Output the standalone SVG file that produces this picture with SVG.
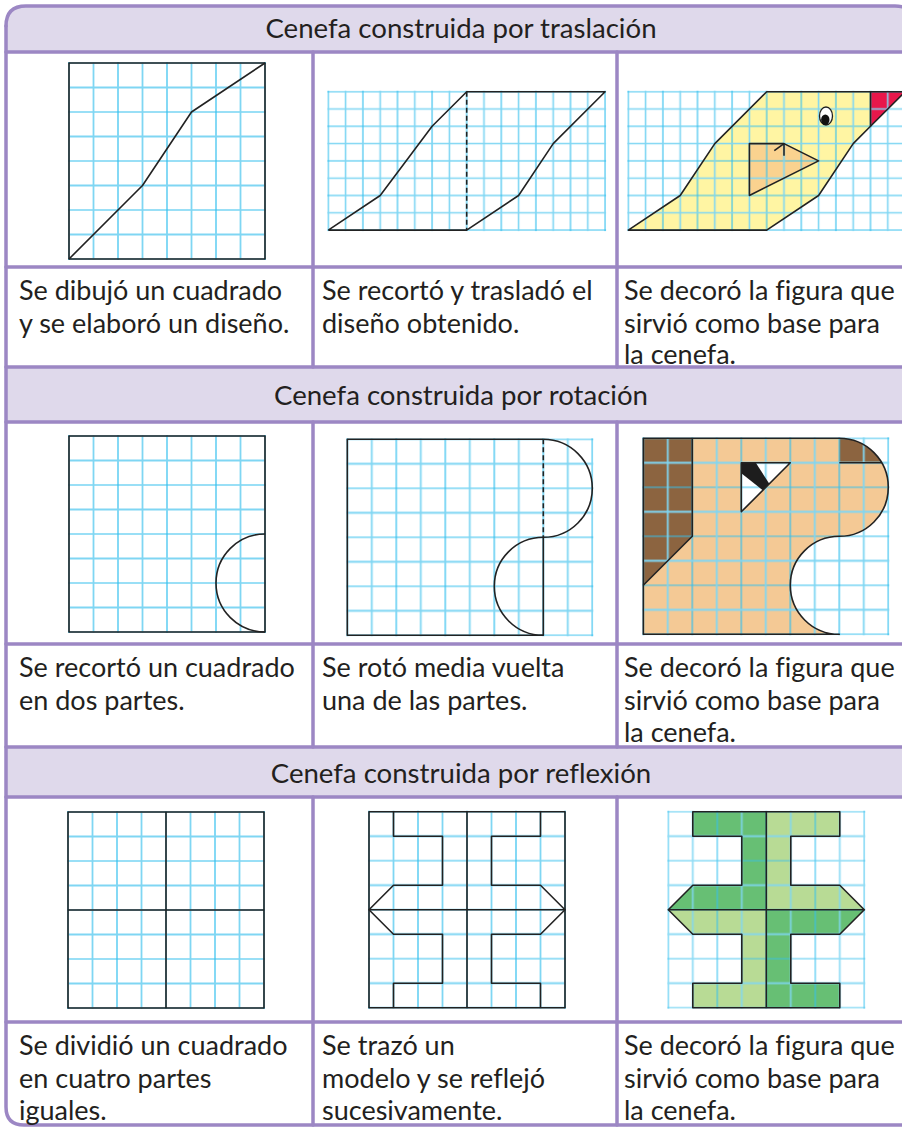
<svg xmlns="http://www.w3.org/2000/svg" width="902" height="1128" viewBox="0 0 902 1128">
<style>
.t{font-family:Lato,"Open Sans",sans-serif;font-size:27px;fill:#231f20;font-variant-ligatures:none}
.h{text-anchor:middle;font-size:27.6px}
.fr{fill:none;stroke:#9c87c4;stroke-width:3.5;stroke-linecap:round}
.ol{fill:none;stroke:#222;stroke-width:1.6;stroke-linejoin:round}
.dash{stroke-dasharray:5 3}
.hd{fill:#dfd9eb}
.ga{fill:url(#gA)}
.gb{fill:url(#gB)}
</style>
<defs>
<pattern id="gA" x="-1" y="-1" width="49" height="49" patternUnits="userSpaceOnUse">
<path d="M1,0V49M0,1H49" stroke="#33c0ee" stroke-width="1.2"/>
<path d="M25.5,0V49M0,25.5H49" stroke="#7fd6f3" stroke-width="1.8"/>
</pattern>
<pattern id="gB" x="-1" y="-1" width="34.6" height="34.6" patternUnits="userSpaceOnUse">
<path d="M1,0V34.6M0,1H34.6" stroke="#33c0ee" stroke-width="1.1"/>
<path d="M18.3,0V34.6M0,18.3H34.6" stroke="#7fd6f3" stroke-width="1.6"/>
</pattern>
</defs>

<!-- header bands -->
<g id="bands">
<path class="hd" d="M6,52V26Q6,6 26,6H895Q915,6 915,26V52Z"/>
<rect class="hd" x="6" y="367" width="910" height="55"/>
<rect class="hd" x="6" y="747" width="910" height="50"/>
</g>

<!-- table rules -->
<g id="rules" class="fr">
<path d="M6,26Q6,6 26,6H895Q915,6 915,26V1128"/>
<path d="M6,26V1107Q6,1125 24,1125H915"/>
<path d="M6,52H915M6,267H915M6,367H915M6,422H915M6,644H915M6,747H915M6,797H915M6,1022H915"/>
<path d="M313,52V367M617,52V367M313,422V747M617,422V747M313,797V1125M617,797V1125"/>
</g>

<!-- headings -->
<g id="headings" class="t h">
<text x="461" y="38">Cenefa construida por traslación</text>
<text x="461" y="405">Cenefa construida por rotación</text>
<text x="461" y="783">Cenefa construida por reflexión</text>
</g>

<!-- translation: square with design -->
<g id="tr1" transform="translate(69,63)">
<rect class="ga" x="-1" y="-1" width="198" height="198"/>
<rect class="ol" x="0" y="0" width="196" height="196"/>
<path class="ol" d="M0,196L73.5,122.5L122.5,49L196,0"/>
</g>

<!-- translation: cut and moved -->
<g id="tr2" transform="translate(328.3,91.7)">
<rect class="gb" x="-1" y="-1" width="278.8" height="140.4"/>
<path class="ol" d="M0,138.4L51.9,103.8L103.8,34.6L138.4,0H276.8L224.9,51.9L190.3,103.8L138.4,138.4H0"/>
<path class="ol dash" d="M138.4,0V138.4"/>
</g>

<!-- translation: decorated bird -->
<g id="tr3" transform="translate(628.3,91.7)">
<path fill="#fff5a3" d="M0,138.4L51.9,103.8L86.5,51.9L138.4,0H242.2V34.6L224.9,51.9L190.3,103.8L138.4,138.4Z"/>
<path fill="#e8174b" d="M242.2,0H276.8L242.2,34.6Z"/>
<path fill="#fad28f" d="M121.1,51.9H155.7L190.3,69.2L121.1,103.8Z"/>
<rect class="gb" x="-1" y="-1" width="278.8" height="140.4"/>
<path class="ol" d="M0,138.4L51.9,103.8L86.5,51.9L138.4,0H276.8L242.2,34.6L224.9,51.9L190.3,103.8L138.4,138.4Z"/>
<path class="ol" d="M242.2,0V34.6"/>
<path class="ol" d="M121.1,51.9H155.7L190.3,69.2L121.1,103.8Z"/>
<path class="ol" d="M146,59L155.7,51.9M155.7,51.9V64"/>
<ellipse cx="197.7" cy="24.3" rx="6.5" ry="9" fill="#fff" stroke="#222" stroke-width="1.3"/>
<ellipse cx="197" cy="28" rx="4.2" ry="5.2" fill="#111"/>
</g>

<!-- rotation: square in two parts -->
<g id="ro1" transform="translate(69,436)">
<rect class="ga" x="-1" y="-1" width="198" height="198"/>
<rect class="ol" x="0" y="0" width="196" height="196"/>
<path class="ol" d="M196,98A49,49 0 0 0 196,196"/>
</g>

<!-- rotation: half turn -->
<g id="ro2" transform="translate(347.3,439.3)">
<rect class="ga" x="-1" y="-1" width="247" height="198"/>
<path class="ol" d="M196,0H0V196H196V98"/>
<path class="ol dash" d="M196,0V98"/>
<path class="ol" d="M196,0A49,49 0 0 1 196,98A49,49 0 0 0 196,196"/>
</g>

<!-- rotation: decorated figure -->
<g id="ro3" transform="translate(643.3,438.3)">
<path fill="#f4c995" d="M0,0H196A49,49 0 0 1 196,98A49,49 0 0 0 196,196H0Z"/>
<path fill="#8c6440" d="M0,0H49V98L0,147Z"/>
<path fill="#8c6440" d="M196,0A49,49 0 0 1 238.4,24.5H196Z"/>
<path fill="#fff" d="M98,24.5H147L98,73.5Z"/>
<rect class="ga" x="-1" y="-1" width="247" height="198"/>
<path fill="#1d1d1d" d="M98,24.5H112.5L126,45.5L119.5,52L98,35Z"/>
<path class="ol" d="M0,0H196A49,49 0 0 1 196,98A49,49 0 0 0 196,196H0Z"/>
<path class="ol" d="M49,0V98L0,147M196,24.5H238.4"/>
<path class="ol" d="M98,24.5H147L98,73.5Z"/>
</g>

<!-- reflection: square in four parts -->
<g id="re1" transform="translate(68,812)">
<rect class="ga" x="-1" y="-1" width="198" height="198"/>
<rect class="ol" x="0" y="0" width="196" height="196"/>
<path class="ol" d="M98,0V196M0,98H196"/>
</g>

<!-- reflection: model reflected -->
<g id="re2" transform="translate(369,811.7)">
<rect class="ga" x="-1" y="-1" width="198" height="198"/>
<rect class="ol" x="0" y="0" width="196" height="196"/>
<path class="ol" d="M98,0V196M0,98H196"/>
<path class="ol" d="M24.5,0V24.5H73.5V73.5H24.5L0,98L24.5,122.5H73.5V171.5H24.5V196"/>
<path class="ol" d="M171.5,0V24.5H122.5V73.5H171.5L196,98L171.5,122.5H122.5V171.5H171.5V196"/>
</g>

<!-- reflection: decorated figure -->
<g id="re3" transform="translate(668.3,811.7)">
<path fill="#67bf74" d="M24.5,0H98V98H0L24.5,73.5H73.5V24.5H24.5Z"/>
<path fill="#b8db95" d="M98,0H171.5V24.5H122.5V73.5H171.5L196,98H98Z"/>
<path fill="#b8db95" d="M0,98H98V196H24.5V171.5H73.5V122.5H24.5Z"/>
<path fill="#67bf74" d="M98,98H196L171.5,122.5H122.5V171.5H171.5V196H98Z"/>
<rect class="ga" x="-1" y="-1" width="198" height="198" opacity="0.85"/>
<path class="ol" d="M24.5,0H171.5V24.5H122.5V73.5H171.5L196,98L171.5,122.5H122.5V171.5H171.5V196H24.5V171.5H73.5V122.5H24.5L0,98L24.5,73.5H73.5V24.5H24.5Z"/>
<path class="ol" d="M98,0V196M0,98H196"/>
</g>

<!-- captions -->
<g id="captions" class="t">
<text x="19" y="300">Se dibujó un cuadrado</text>
<text x="19" y="333">y se elaboró un diseño.</text>
<text x="322" y="300">Se recortó y trasladó el</text>
<text x="322" y="333">diseño obtenido.</text>
<text x="624" y="300">Se decoró la figura que</text>
<text x="624" y="333">sirvió como base para</text>
<text x="624" y="364">la cenefa.</text>

<text x="19" y="677">Se recortó un cuadrado</text>
<text x="19" y="710">en dos partes.</text>
<text x="322" y="677">Se rotó media vuelta</text>
<text x="322" y="710">una de las partes.</text>
<text x="624" y="677">Se decoró la figura que</text>
<text x="624" y="710">sirvió como base para</text>
<text x="624" y="742">la cenefa.</text>

<text x="19" y="1055">Se dividió un cuadrado</text>
<text x="19" y="1088">en cuatro partes</text>
<text x="19" y="1120">iguales.</text>
<text x="322" y="1055">Se trazó un</text>
<text x="322" y="1088">modelo y se reflejó</text>
<text x="322" y="1120">sucesivamente.</text>
<text x="624" y="1055">Se decoró la figura que</text>
<text x="624" y="1088">sirvió como base para</text>
<text x="624" y="1120">la cenefa.</text>
</g>
</svg>
